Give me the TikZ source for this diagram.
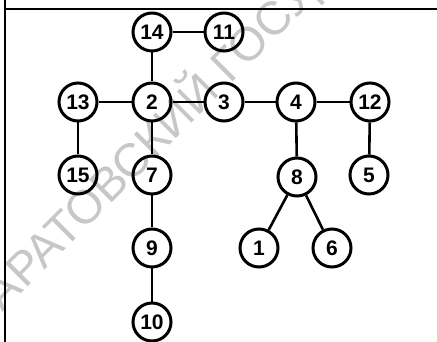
\documentclass[tikz,border=0pt]{standalone}
\usepackage{fontspec}
\setmainfont{Liberation Sans}
\begin{document}
\begin{tikzpicture}[x=1pt,y=-1pt,
  vtx/.style={circle,draw=black,line width=3pt,minimum size=38pt,inner sep=0pt,
    font=\fontsize{21}{21}\selectfont\bfseries},
  edge/.style={line width=2.6pt},
  frameline/.style={line width=2.4pt},
  wm/.style={text=black!22,font=\fontsize{47}{47}\selectfont,rotate=45}]
\useasboundingbox (0,0) rectangle (437,342);
% watermark
\node[wm,anchor=base] (wmark) at (275,40) {САРАТОВСКИЙ ГОСУДАРСТВЕННЫЙ};
% frame
\coordinate (fl0) at (5,0);
\coordinate (fl1) at (5,342);
\coordinate (ft0) at (5,9);
\coordinate (ft1) at (437,9);
\draw[frameline] (fl0) -- (fl1);
\draw[frameline] (ft0) -- (ft1);
% vertices
\node[vtx] (n14) at (152,32) {14};
\node[vtx] (n11) at (224,32) {11};
\node[vtx] (n13) at (78,102) {13};
\node[vtx] (n2) at (152,102) {2};
\node[vtx] (n3) at (224,102) {3};
\node[vtx] (n4) at (296,102) {4};
\node[vtx] (n12) at (370,102) {12};
\node[vtx] (n15) at (78,175) {15};
\node[vtx] (n7) at (152,175) {7};
\node[vtx] (n8) at (297,177) {8};
\node[vtx] (n5) at (369,175) {5};
\node[vtx] (n9) at (152,248) {9};
\node[vtx] (n1) at (259,248) {1};
\node[vtx] (n6) at (332,248) {6};
\node[vtx] (n10) at (152,322) {10};
% edges
\draw[edge] (n14) -- (n11);
\draw[edge] (n14) -- (n2);
\draw[edge] (n13) -- (n2);
\draw[edge] (n2) -- (n3);
\draw[edge] (n3) -- (n4);
\draw[edge] (n4) -- (n12);
\draw[edge] (n13) -- (n15);
\draw[edge] (n2) -- (n7);
\draw[edge] (n7) -- (n9);
\draw[edge] (n9) -- (n10);
\draw[edge] (n4) -- (n8);
\draw[edge] (n8) -- (n1);
\draw[edge] (n8) -- (n6);
\draw[edge] (n12) -- (n5);
\end{tikzpicture}
\end{document}
